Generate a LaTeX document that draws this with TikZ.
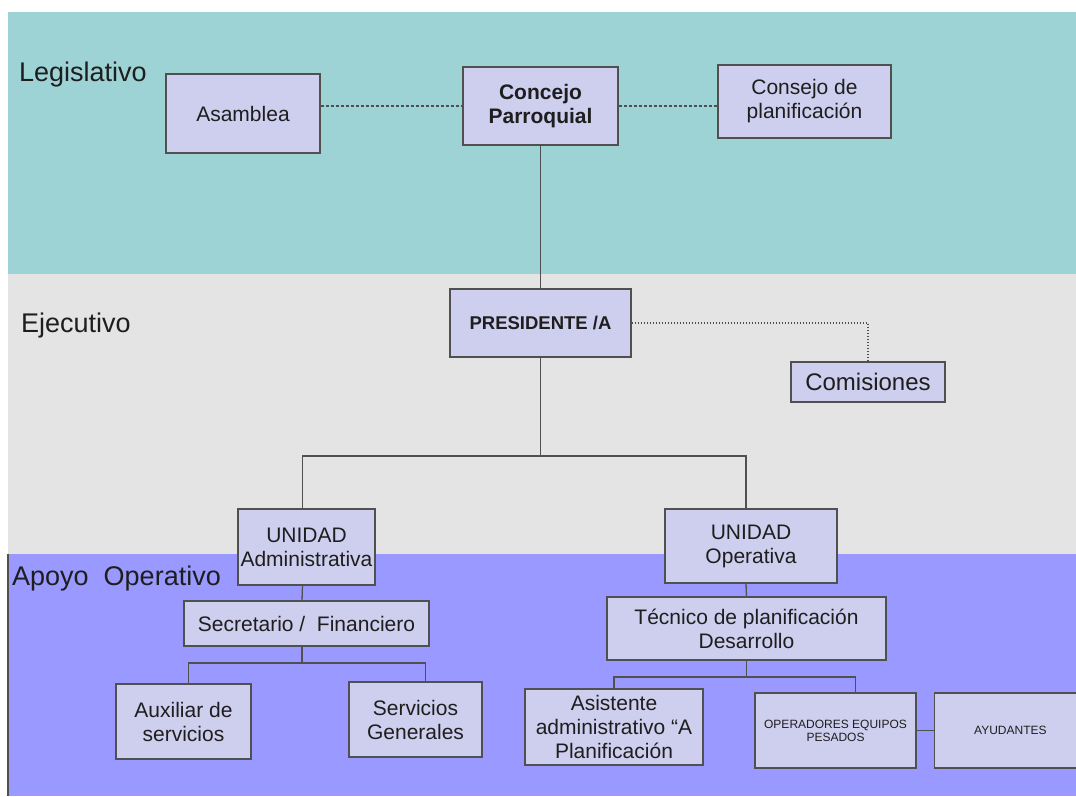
\documentclass[tikz,border=0pt]{standalone}
\usepackage{fontspec}
\setmainfont{Liberation Sans}
\usepackage{xcolor}
\usepackage{tikz}
\usetikzlibrary{positioning}
\definecolor{legis}{RGB}{158,211,214}
\definecolor{ejec}{RGB}{228,228,228}
\definecolor{apoyo}{RGB}{153,153,255}
\definecolor{caja}{RGB}{206,206,238}
\definecolor{borde}{RGB}{80,80,80}
\definecolor{texto}{RGB}{30,30,30}
\tikzset{
  cargo/.style={draw=borde, fill=caja, line width=1.4pt, align=center, inner sep=0pt, text=texto, font=\fontsize{21}{24}\selectfont},
  cargob/.style={cargo, font=\fontsize{21}{24}\selectfont\bfseries},
  mini/.style={font=\fontsize{12}{13}\selectfont},
  nivel/.style={anchor=base west, inner sep=0pt, text=texto, font=\fontsize{27}{30}\selectfont},
  enlace/.style={draw=borde, line width=1.3pt},
  rayas/.style={enlace, dash pattern=on 3pt off 2pt},
  puntos/.style={enlace, dash pattern=on 1.5pt off 1.5pt},
}

\begin{document}
\begin{tikzpicture}[x=1pt, y=-1pt]
\useasboundingbox[fill=white] (0,0) rectangle (1076,796);
% franjas de fondo
\fill[legis] (8,12) rectangle (1076,274);
\fill[ejec] (8,274) rectangle (1076,554);
\fill[apoyo] (8,554) rectangle (1076,796);
\draw[borde, line width=1.2pt] (8,554) -- (8,796);
\node[nivel] (lleg) at (19,81) {Legislativo};
\node[nivel] (leje) at (21,332) {Ejecutivo};
\node[nivel] (lapo) at (12,585) {Apoyo\ \ Operativo};

% legislativo
\node[cargo, minimum width=154pt, minimum height=79pt] (asam) at (243,113.5) {Asamblea};
\node[cargob, minimum width=155pt, minimum height=78pt] (concejo) at (540.5,106) {Concejo\\Parroquial};
\node[cargo, minimum width=173pt, minimum height=73pt] (consejo) at (804.5,101.5) {Consejo de\\planificación};
\draw[rayas] (asam.east |- concejo.west) -- (concejo.west);
\draw[rayas] (concejo.east) -- (concejo.east -| consejo.west);

% ejecutivo
\node[cargob, font=\fontsize{18.5}{22}\selectfont\bfseries, minimum width=181pt, minimum height=68pt] (pres) at (540.5,323) {PRESIDENTE /A};
\node[cargo, font=\fontsize{24}{27}\selectfont, minimum width=154pt, minimum height=40pt] (comis) at (868,382) {Comisiones};
\draw[enlace] (concejo.south) -- (pres.north);
\draw[puntos] (pres.east) -| (comis.north);

\node[cargo, minimum width=137pt, minimum height=76pt] (uadm) at (306.5,547) {UNIDAD\\Administrativa};
\node[cargo, minimum width=172pt, minimum height=74pt] (uop) at (751,546) {UNIDAD\\Operativa};
\coordinate (bus1) at (540.5,456);
\draw[enlace] (pres.south) -- (bus1);
\draw[enlace] ([xshift=-4pt]uadm.north) |- (bus1) -| ([xshift=-5pt]uop.north);

% apoyo operativo
\node[cargo, minimum width=245pt, minimum height=45pt] (secr) at (306.5,623.5) {Secretario /\ \ Financiero};
\node[cargo, minimum width=135pt, minimum height=75pt] (aux) at (183.5,721.5) {Auxiliar de\\servicios};
\node[cargo, minimum width=133pt, minimum height=75pt] (serv) at (415.5,719.5) {Servicios\\Generales};
\coordinate (bus2) at (302,663);
\draw[enlace] ([xshift=-4pt]uadm.south) -- (secr.north -| bus2);
\draw[enlace] (secr.south -| bus2) -- (bus2);
\draw[enlace] ([xshift=5pt]aux.north) |- (bus2) -| ([xshift=10pt]serv.north);

\node[cargo, minimum width=279pt, minimum height=63pt] (tecn) at (746.5,628.5) {Técnico de planificación\\Desarrollo};
\node[cargo, minimum width=178pt, minimum height=76pt] (asis) at (614,727) {Asistente\\administrativo “A\\Planificación};
\node[cargo, mini, minimum width=161pt, minimum height=75pt] (oper) at (835.5,730.5) {OPERADORES EQUIPOS\\PESADOS};
\node[cargo, mini, minimum width=152pt, minimum height=75pt, right=17pt of oper] (ayud) {AYUDANTES};
\coordinate (bus3) at (746.5,677);
\draw[enlace] ([xshift=-5pt]uop.south) -- (tecn.north);
\draw[enlace] (tecn.south) -- (bus3);
\draw[enlace] (asis.north) |- (bus3) -| ([xshift=20pt]oper.north);
\draw[enlace] (oper.east) -- (ayud.west);
\end{tikzpicture}
\end{document}
